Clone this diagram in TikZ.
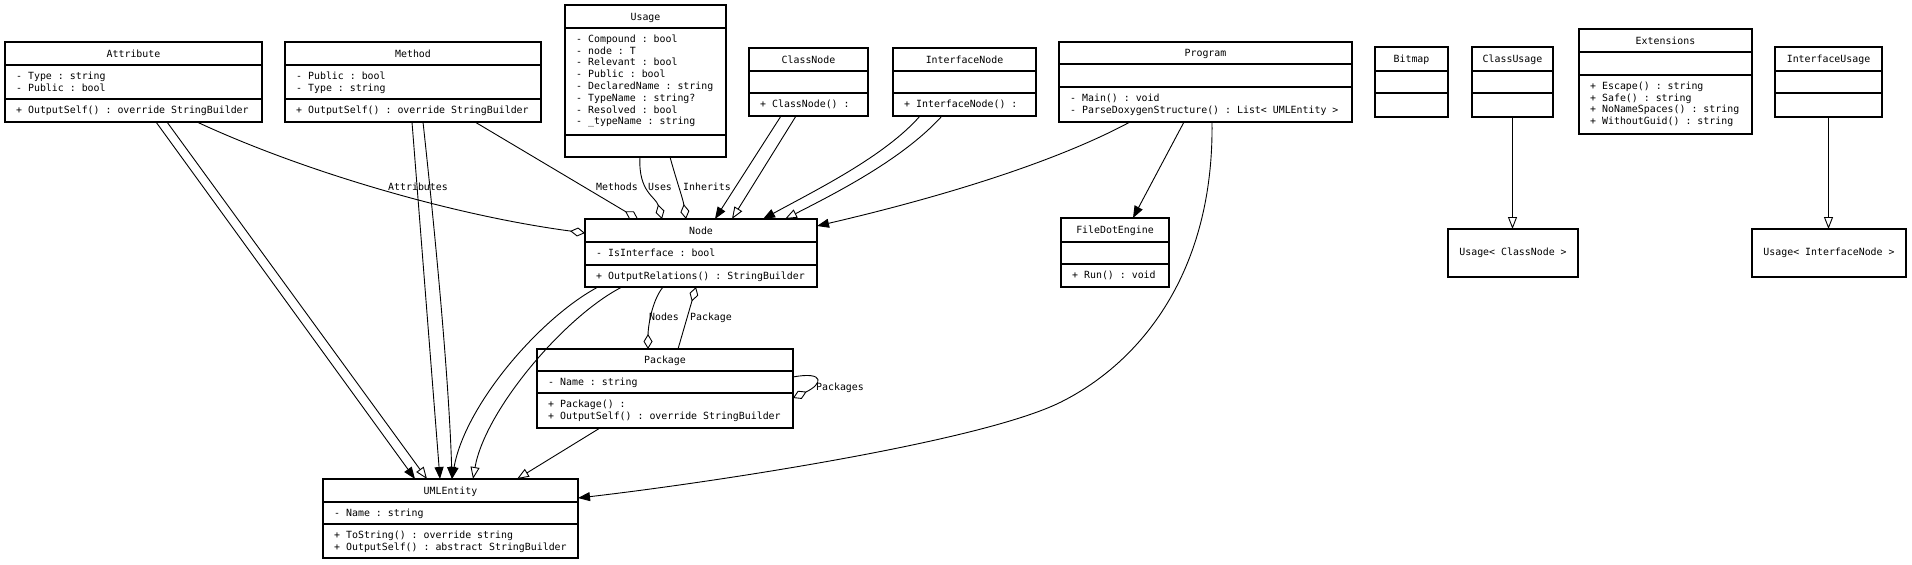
\documentclass[tikz,border=0pt]{standalone}
\usepackage{fontspec}
\setmonofont{DejaVu Sans Mono}
\usetikzlibrary{arrows.meta,calc}
\tikzset{
 cls/.style={draw, line width=1.2pt, anchor=north west, inner sep=0pt, outer sep=0pt},
 sepline/.style={line width=1.2pt},
 txt/.style={font=\fontsize{9.9}{11.8}\selectfont\ttfamily, inner sep=0pt},
 conn/.style={line width=0.9pt},
 edgeF/.style={conn, -{Triangle[length=12pt,width=9pt]}},
 edgeO/.style={conn, -{Triangle[open,length=12pt,width=9pt]}},
 edgeD/.style={conn, -{Diamond[open,length=15pt,width=9pt]}},
 lbl/.style={txt, anchor=base},
}
% name, x, y, w, h, sep1 (abs y), sep2 (abs y), title
\newcommand\umlbox[8]{%
  \node[cls, minimum width=#4pt, minimum height=#5pt] (#1) at (#2,#3) {};
  \draw[sepline] (#2,#6) -- ++(#4,0);
  \draw[sepline] (#2,#7) -- ++(#4,0);
  \node[txt, anchor=base] (#1-t) at ({#2+#4/2},{(#3+#6)/2+3.5}) {#8};
}
% name prefix, x, sep y, list of lines
\newcommand\umltext[4]{%
  \foreach \ln [count=\i] in {#4}{%
    \node[txt, anchor=base west] (#1\i) at ({#2+11},{#3+14.3+11.8*(\i-1)}) {\ln};
  }%
}
\begin{document}
\begin{tikzpicture}[x=1pt,y=-1pt]
\fill[white] (0,0) rectangle (1912,565);
\useasboundingbox (0,0) rectangle (1912,565);

% ---------- classes ----------
\umlbox{attr}{5}{42}{257}{80}{65}{99}{Attribute}
\umltext{attr-a}{5}{65}{- Type : string, - Public : bool}
\umltext{attr-m}{5}{99}{+ OutputSelf() : override StringBuilder}

\umlbox{meth}{285}{42}{256}{80}{65}{99}{Method}
\umltext{meth-a}{285}{65}{- Public : bool, - Type : string}
\umltext{meth-m}{285}{99}{+ OutputSelf() : override StringBuilder}

\umlbox{usage}{565}{5}{161}{152}{28}{135}{Usage}
\umltext{usage-a}{565}{28}{- Compound : bool, - node : T, - Relevant : bool, - Public : bool, - DeclaredName : string, - TypeName : string?, - Resolved : bool, - \_typeName : string}

\umlbox{cnode}{749}{48}{119}{68}{71}{93}{ClassNode}
\umltext{cnode-m}{749}{93}{+ ClassNode() :}

\umlbox{inode}{893}{48}{143}{68}{71}{93}{InterfaceNode}
\umltext{inode-m}{893}{93}{+ InterfaceNode() :}

\umlbox{prog}{1059}{42}{293}{80}{64}{87}{Program}
\umltext{prog-m}{1059}{87}{- Main() : void, - ParseDoxygenStructure() : List< UMLEntity >}

\umlbox{bitmap}{1375}{47}{73}{70}{71}{93}{Bitmap}
\umlbox{cusage}{1472}{47}{81}{70}{71}{93}{ClassUsage}

\umlbox{ext}{1579}{29}{173}{105}{52}{75}{Extensions}
\umltext{ext-m}{1579}{75}{+ Escape() : string, + Safe() : string, + NoNameSpaces() : string, + WithoutGuid() : string}

\umlbox{iusage}{1775}{47}{107}{70}{71}{93}{InterfaceUsage}

\umlbox{node}{585}{219}{232}{68}{242}{265}{Node}
\umltext{node-a}{585}{242}{- IsInterface : bool}
\umltext{node-m}{585}{265}{+ OutputRelations() : StringBuilder}

\umlbox{fde}{1061}{218}{108}{69}{242}{264}{FileDotEngine}
\umltext{fde-m}{1061}{264}{+ Run() : void}

\umlbox{pkg}{537}{349}{256}{79}{371}{393}{Package}
\umltext{pkg-a}{537}{371}{- Name : string}
\umltext{pkg-m}{537}{393}{+ Package() :, + OutputSelf() : override StringBuilder}

\umlbox{uml}{323}{479}{255}{79}{502}{524}{UMLEntity}
\umltext{uml-a}{323}{502}{- Name : string}
\umltext{uml-m}{323}{524}{+ ToString() : override string, + OutputSelf() : abstract StringBuilder}

\node[cls, txt, minimum width=130pt, minimum height=48pt] (ucn) at (1448,229) {Usage< ClassNode >};
\node[cls, txt, minimum width=154pt, minimum height=48pt] (uin) at (1752,229) {Usage< InterfaceNode >};

% ---------- connectors ----------
% Attribute
\draw[edgeF] ($(attr.south west)+(151,0)$) -- ($(uml.north west)+(92,0)$);
\draw[edgeO] ($(attr.south west)+(162,0)$) -- ($(uml.north west)+(104,0)$);
\draw[edgeD] ($(attr.south west)+(192,0)$) .. controls +(103,48) and +(-135,-18) .. ($(node.north west)+(0,14)$);
% Method
\draw[edgeF] ($(meth.south west)+(127,0)$) -- ($(uml.north west)+(117,0)$);
\draw[edgeF] ($(meth.south west)+(138,0)$) .. controls +(12,110) and +(-3,-100) .. ($(uml.north west)+(129,0)$);
\draw[edgeD] ($(meth.south west)+(190,0)$) -- ($(node.north west)+(53,0)$);
% Usage
\draw[edgeD] ($(usage.south west)+(75,0)$) .. controls +(-2,35) and +(-6,-22) .. ($(node.north west)+(77,0)$);
\draw[edgeD] ($(usage.south west)+(105,0)$) .. controls +(6,22) and +(-3,-20) .. ($(node.north west)+(101,0)$);
% ClassNode
\draw[edgeF] ($(cnode.south west)+(32,0)$) -- ($(node.north west)+(130,0)$);
\draw[edgeO] ($(cnode.south west)+(47,0)$) -- ($(node.north west)+(147,0)$);
% InterfaceNode
\draw[edgeF] ($(inode.south west)+(27,0)$) .. controls +(-35,40) and +(55,-30) .. ($(node.north west)+(178,0)$);
\draw[edgeO] ($(inode.south west)+(49,0)$) .. controls +(-38,42) and +(55,-28) .. ($(node.north west)+(200,0)$);
% Program
\draw[edgeF] ($(prog.south west)+(71,0)$) .. controls +(-80,43) and +(112,-26) .. ($(node.north east)+(0,7)$);
\draw[edgeF] ($(prog.south west)+(125,0)$) -- ($(fde.north west)+(72,0)$);
\coordinate (pbend) at (1061,402);
\draw[edgeF] ($(prog.south west)+(153,0)$) .. controls +(2,150) and +(80,-40) .. (pbend)
   .. controls +(-80,40) and +(130,-15) .. ($(uml.north east)+(0,19)$);
% Node -> UMLEntity
\draw[edgeF] ($(node.south west)+(13,0)$) .. controls +(-58,31) and +(13,-74) .. ($(uml.north west)+(129,0)$);
\draw[edgeO] ($(node.south west)+(37,0)$) .. controls +(-57,29) and +(12,-69) .. ($(uml.north west)+(150,0)$);
% Node <-> Package
\draw[edgeD] ($(node.south west)+(78,0)$) .. controls +(-12,15) and +(0,-20) .. ($(pkg.north west)+(111,0)$);
\draw[edgeD] ($(pkg.north west)+(141,0)$) -- ($(node.south west)+(111,0)$);
\draw[edgeD] ($(pkg.north east)+(0,28)$) .. controls +(32,-6) and +(30,-14) .. ($(pkg.north east)+(0,49)$);
% Package -> UMLEntity
\draw[edgeO] ($(pkg.south west)+(63,0)$) -- ($(uml.north west)+(194,0)$);
% Usages
\draw[edgeO] (cusage.south) -- (cusage.south |- ucn.north);
\draw[edgeO] (iusage.south) -- (iusage.south |- uin.north);

% ---------- labels ----------
\node[lbl] (l-attr) at (418,190.5) {Attributes};
\node[lbl] (l-meth) at (617,190.5) {Methods};
\node[lbl] (l-uses) at (660,190.5) {Uses};
\node[lbl] (l-inh) at (707,190.5) {Inherits};
\node[lbl] (l-nodes) at (664,320.5) {Nodes};
\node[lbl] (l-pkg) at (711,320.5) {Package};
\node[lbl] (l-pkgs) at (840,390.5) {Packages};
\end{tikzpicture}
\end{document}
